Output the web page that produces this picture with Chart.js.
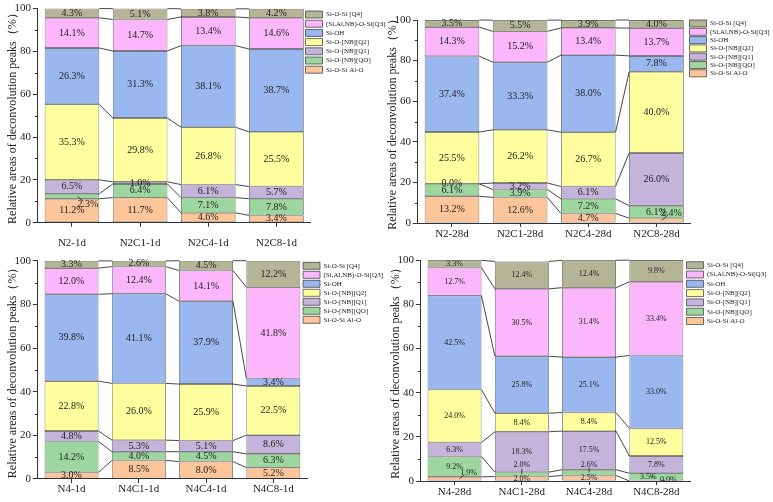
<!DOCTYPE html>
<html>
<head>
<meta charset="utf-8">
<script src="https://cdn.jsdelivr.net/npm/chart.js@4.4.0/dist/chart.umd.min.js"></script>
<style>
  body { margin: 0; background: #fff; }
  #wrap { position: relative; width: 773px; height: 502px; overflow: hidden; }
  .panel { position: absolute; }
</style>
</head>
<body>
<div id="wrap">
  <div class="panel" id="p1"><canvas id="c1"></canvas></div>
  <div class="panel" id="p2"><canvas id="c2"></canvas></div>
  <div class="panel" id="p3"><canvas id="c3"></canvas></div>
  <div class="panel" id="p4"><canvas id="c4"></canvas></div>
</div>
<script>
// peak names, bottom of the stack first
var peaks = ['Si-O-Si Al-O', 'Si-O-[NB][QO]', 'Si-O-[NB][Q1]', 'Si-O-[NB][Q2]',
             'Si-OH', '(Si,Al,NB)-O-Si[Q3]', 'Si-O-Si [Q4]'];
var peakColors = ['#fcc59a', '#9dd79f', '#c4b3da', '#fefe9e', '#9ab7f0', '#fcb6fb', '#b4b596'];

// N2, 1 day
var cats1 = ['N2-1d', 'N2C1-1d', 'N2C4-1d', 'N2C8-1d'];
var p1AlO = [11.2, 11.7, 4.6, 3.4];
var p1Q0  = [2.3, 6.4, 7.1, 7.8];
var p1Q1  = [6.5, 1.0, 6.1, 5.7];
var p1Q2  = [35.3, 29.8, 26.8, 25.5];
var p1OH  = [26.3, 31.3, 38.1, 38.7];
var p1Q3  = [14.1, 14.7, 13.4, 14.6];
var p1Q4  = [4.3, 5.1, 3.8, 4.2];

// N2, 28 days
var cats2 = ['N2-28d', 'N2C1-28d', 'N2C4-28d', 'N2C8-28d'];
var p2AlO = [13.2, 12.6, 4.7, 2.4];
var p2Q0  = [6.1, 3.9, 7.2, 6.1];
var p2Q1  = [0.0, 3.2, 6.1, 26.0];
var p2Q2  = [25.5, 26.2, 26.7, 40.0];
var p2OH  = [37.4, 33.3, 38.0, 7.8];
var p2Q3  = [14.3, 15.2, 13.4, 13.7];
var p2Q4  = [3.5, 5.5, 3.9, 4.0];

// N4, 1 day
var cats3 = ['N4-1d', 'N4C1-1d', 'N4C4-1d', 'N4C8-1d'];
var p3AlO = [3.0, 8.5, 8.0, 5.2];
var p3Q0  = [14.2, 4.0, 4.5, 6.3];
var p3Q1  = [4.8, 5.3, 5.1, 8.6];
var p3Q2  = [22.8, 26.0, 25.9, 22.5];
var p3OH  = [39.8, 41.1, 37.9, 3.4];
var p3Q3  = [12.0, 12.4, 14.1, 41.8];
var p3Q4  = [3.3, 2.6, 4.5, 12.2];

// N4, 28 days
var cats4 = ['N4-28d', 'N4C1-28d', 'N4C4-28d', 'N4C8-28d'];
var p4AlO = [1.9, 2.0, 2.5, 0.0];
var p4Q0  = [9.2, 2.0, 2.6, 3.5];
var p4Q1  = [6.3, 18.3, 17.5, 7.8];
var p4Q2  = [24.0, 8.4, 8.4, 12.5];
var p4OH  = [42.5, 25.8, 25.1, 33.0];
var p4Q3  = [12.7, 30.5, 31.4, 33.4];
var p4Q4  = [3.3, 12.4, 12.4, 9.8];

var yTicks = [0, 20, 40, 60, 80, 100];
var yMinor = [10, 30, 50, 70, 90];

var FONT = '"Liberation Serif", "Times New Roman", serif';
var INK = '#333';

// lines between bars, minor ticks, percent labels inside the segments
var stackDecor = {
  id: 'stackDecor',
  beforeLayout: function (chart) {
    // keep the legend from eating plot width; it is placed by hand below
    var lg = chart.legend;
    if (lg && !lg._thin) {
      var fit = lg.fit;
      lg.fit = function () { fit.call(this); this.width = 1; };
      lg._thin = true;
    }
  },
  afterLayout: function (chart, args, opts) {
    var lg = chart.legend;
    if (lg && opts.legendAt) {
      lg.left = opts.legendAt[0] - lg.options.labels.padding;
      lg.top = opts.legendAt[1] - lg.options.labels.padding;
      lg.right = chart.width;
      lg.bottom = chart.height;
      lg.width = lg.right - lg.left;
      lg.height = lg.bottom - lg.top;
    }
  },
  afterDatasetsDraw: function (chart, args, opts) {
    var ctx = chart.ctx;
    var sets = chart.data.datasets;
    var ys = chart.scales.y;
    ctx.save();
    ctx.strokeStyle = INK;
    ctx.lineWidth = 1;
    yMinor.forEach(function (v) {
      var py = Math.round(ys.getPixelForValue(v)) + 0.5;
      ctx.beginPath();
      ctx.moveTo(ys.right - 3, py);
      ctx.lineTo(ys.right, py);
      ctx.stroke();
    });
    ctx.lineWidth = 0.9;
    for (var d = 0; d < sets.length; d++) {
      var bars = chart.getDatasetMeta(d).data;
      for (var i = 0; i < bars.length - 1; i++) {
        var a = bars[i], b = bars[i + 1];
        ctx.beginPath();
        ctx.moveTo(a.x + a.width / 2, a.y);
        ctx.lineTo(b.x - b.width / 2, b.y);
        ctx.stroke();
      }
    }
    ctx.font = opts.size + 'px ' + FONT;
    ctx.fillStyle = '#222';
    ctx.textAlign = 'center';
    ctx.textBaseline = 'middle';
    var nudge = opts.nudge || {};
    for (var d = 0; d < sets.length; d++) {
      var bars = chart.getDatasetMeta(d).data;
      bars.forEach(function (bar, i) {
        var v = sets[d].data[i];
        var cy = (bar.y + bar.base) / 2;
        var x = bar.x, y = cy;
        var n = nudge[d + '-' + i];
        if (n) {
          x += n[0]; y += n[1];
          ctx.beginPath();
          ctx.moveTo(bar.x + n[0] * 0.35, cy);
          ctx.lineTo(bar.x + n[0] * 0.7, cy + n[1] * 0.6);
          ctx.stroke();
        }
        ctx.fillText(v.toFixed(1) + '%', x, y);
      });
    }
    ctx.restore();
  }
};

function makePanel(canvasId, cats, series, o) {
  var datasets = series.map(function (vals, k) {
    return {
      label: peaks[k],
      data: vals,
      backgroundColor: peakColors[k],
      borderColor: INK,
      borderWidth: 0.7,
      borderSkipped: false,
      categoryPercentage: 1.0,
      barPercentage: 0.8
    };
  });
  return new Chart(document.getElementById(canvasId), {
    type: 'bar',
    data: { labels: cats, datasets: datasets },
    plugins: [stackDecor],
    options: {
      responsive: true,
      maintainAspectRatio: false,
      animation: false,
      layout: { padding: o.pad },
      plugins: {
        tooltip: { enabled: false },
        legend: {
          position: 'right',
          align: 'start',
          reverse: true,
          labels: {
            boxWidth: 17,
            boxHeight: 7,
            padding: o.legendGap,
            color: '#222',
            font: { family: FONT, size: 7 }
          }
        },
        stackDecor: { size: o.labelSize, nudge: o.nudge, legendAt: o.legendAt }
      },
      scales: {
        x: {
          stacked: true,
          grid: { display: true, drawOnChartArea: false, offset: false, tickLength: 4, tickColor: INK },
          border: { color: INK, width: 1 },
          ticks: { color: '#222', padding: o.xPad, font: { family: FONT, size: 11 } }
        },
        y: {
          stacked: true,
          min: 0,
          max: 100,
          afterBuildTicks: function (axis) {
            axis.ticks = yTicks.map(function (v) { return { value: v }; });
          },
          grid: { display: true, drawOnChartArea: false, tickLength: 5, tickColor: INK },
          border: { color: INK, width: 1 },
          ticks: { color: '#222', padding: 2, font: { family: FONT, size: 11 } },
          title: {
            display: true,
            text: 'Relative areas of deconvolution peaks（%）',
            color: '#222',
            padding: { top: 2, bottom: -8 },
            font: { family: FONT, size: 12 }
          }
        }
      }
    }
  });
}

function place(id, left, top, w, h) {
  var el = document.getElementById(id);
  el.style.left = left + 'px';
  el.style.top = top + 'px';
  el.style.width = w + 'px';
  el.style.height = h + 'px';
}

place('p1', 3.5, 0, 400, 259.3);
place('p2', 383.5, 0, 389.5, 242);
place('p3', 4, 251, 400, 245.2);
place('p4', 386.5, 251, 386.5, 248);

makePanel('c1', cats1, [p1AlO, p1Q0, p1Q1, p1Q2, p1OH, p1Q3, p1Q4],
  { pad: { top: 5.7, right: 92.5, bottom: 0, left: 0 }, xPad: 9.7, labelSize: 10,
    legendAt: [305 - 3.5, 11], legendGap: 2.2,
    nudge: { '1-0': [16, 8] } });
makePanel('c2', cats2, [p2AlO, p2Q0, p2Q1, p2Q2, p2OH, p2Q3, p2Q4],
  { pad: { top: 20, right: 82, bottom: 0, left: 0 }, xPad: 0.9, labelSize: 10,
    legendAt: [689 - 383.5, 20], legendGap: 1.3,
    nudge: { '0-3': [15, -7] } });
makePanel('c3', cats3, [p3AlO, p3Q0, p3Q1, p3Q2, p3OH, p3Q3, p3Q4],
  { pad: { top: 9.7, right: 96, bottom: 0, left: 0 }, xPad: 0, labelSize: 10,
    legendAt: [303 - 4, 11.3], legendGap: 2,
    nudge: {} });
makePanel('c4', cats4, [p4AlO, p4Q0, p4Q1, p4Q2, p4OH, p4Q3, p4Q4],
  { pad: { top: 9.1, right: 82.5, bottom: 0, left: 0 }, xPad: 0.4, labelSize: 8,
    legendAt: [686 - 386.5, 10.7], legendGap: 2.3,
    nudge: { '0-0': [14, -6], '1-1': [0, -9], '1-2': [0, -8], '1-3': [-8, 0], '0-3': [12, -1] } });
</script>
</body>
</html>
